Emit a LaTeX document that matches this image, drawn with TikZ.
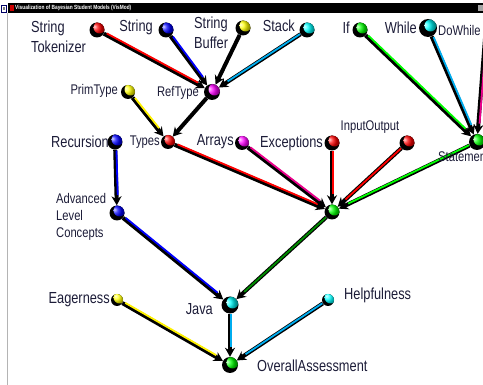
\documentclass[tikz,border=0pt]{standalone}
\usepackage{fontspec}
\newfontfamily\visfont{Liberation Sans}[FakeStretch=0.8]
\usetikzlibrary{arrows.meta}
\definecolor{ink}{HTML}{1C1C38}
\definecolor{frame}{HTML}{B4B4B4}
\tikzset{
  every picture/.style={>={Stealth[length=9pt,width=10pt]}},
  ball/.style={circle, inner sep=0pt, minimum size=15pt, fill=black,
    path picture={\shade[ball color=#1] ([shift={(2.5pt,2.5pt)}]path picture bounding box.center) circle (6pt);}},
  bigtxt/.style={font=\visfont\fontsize{16}{20}\selectfont, text=ink, inner sep=0pt, align=left},
  smalltxt/.style={font=\visfont\fontsize{14}{17}\selectfont, text=ink, inner sep=0pt, align=left},
  link/.style={->, line width=4pt},
  strip/.style={line width=1.8pt, shorten >=9pt, shorten <=2pt,
    transform canvas={shift={(1.2pt,1.2pt)}}},
}
\begin{document}
\begin{tikzpicture}[x=1pt,y=-1pt]
  \path[use as bounding box] (0,0) rectangle (483,385);
  \clip (0,0) rectangle (483,385);
  \draw[frame, line width=1pt] (7.5,13) -- (7.5,385);

  % nodes of the network
  \node[ball=red] (tok) at (97,30) {};
  \node[ball=blue] (str) at (166,30) {};
  \node[ball=yellow] (sbuf) at (243,28) {};
  \node[ball=cyan] (stack) at (307,30) {};
  \node[ball=green] (if) at (360,30) {};
  \node[ball=cyan, minimum size=18pt] (while) at (428,28) {};
  \coordinate (offr) at (488,0);
  \node[ball=magenta, minimum size=16pt] (ref) at (212,92) {};
  \node[ball=yellow, minimum size=14pt] (prim) at (128,92) {};
  \node[ball=red, minimum size=14pt] (types) at (168,142) {};
  \node[ball=blue] (rec) at (115,142) {};
  \node[ball=magenta, minimum size=14pt] (arr) at (242,143) {};
  \node[ball=red] (exc) at (332,143) {};
  \node[ball=red] (io) at (407,143) {};
  \node[ball=green, minimum size=16pt] (stmt) at (477,142) {};
  \node[ball=blue] (adv) at (117,213) {};
  \node[ball=green] (lang) at (332,212) {};
  \node[ball=cyan, minimum size=17pt] (java) at (230,305) {};
  \node[ball=yellow, minimum size=12pt] (eag) at (117,300) {};
  \node[ball=cyan, minimum size=12pt] (help) at (328,300) {};
  \node[ball=green, minimum size=16pt] (all) at (230,365) {};

  % dependencies
  \foreach \a/\b/\c in {tok/ref/red, str/ref/blue, sbuf/ref/black, stack/ref/cyan,
      prim/types/yellow, ref/types/black, types/lang/red, arr/lang/magenta,
      exc/lang/red, io/lang/red, stmt/lang/green, if/stmt/green, while/stmt/cyan,
      offr/stmt/magenta, rec/adv/blue, adv/java/blue, lang/java/green!55!black,
      java/all/cyan, eag/all/yellow, help/all/cyan}{
    \draw[link] (\a) -- (\b);
    \draw[strip,\c] (\a) -- (\b);
  }

  % labels
  \node[bigtxt, anchor=west] (tok-l) at (31,37) {String\\Tokenizer};
  \node[bigtxt, anchor=east] (str-l) at (153,27) {String};
  \node[bigtxt, anchor=west] (sbuf-l) at (194,33) {String\\Buffer};
  \node[bigtxt, anchor=east] (stack-l) at (295,26) {Stack};
  \node[bigtxt, anchor=east] (if-l) at (350,28) {If};
  \node[bigtxt, anchor=east] (while-l) at (417,28) {While};
  \node[smalltxt, anchor=west] (dowhile-l) at (438,30) {DoWhile};
  \node[smalltxt, anchor=east] (prim-l) at (118,91) {PrimType};
  \node[smalltxt, anchor=east] (ref-l) at (199,93) {RefType};
  \node[smalltxt, anchor=east] (types-l) at (160,142) {Types};
  \node[bigtxt, anchor=east] (rec-l) at (109,142) {Recursion};
  \node[bigtxt, anchor=east] (arr-l) at (234,142) {Arrays};
  \node[bigtxt, anchor=east] (exc-l) at (323,143) {Exceptions};
  \node[smalltxt] (io-l) at (370,127) {InputOutput};
  \node[smalltxt, anchor=west] (adv-l) at (56,217) {Advanced\\Level\\Concepts};
  \node[smalltxt, anchor=west] (stmt-l) at (438,157) {Statements};
  \node[bigtxt, anchor=east] (java-l) at (213,309) {Java};
  \node[bigtxt, anchor=east] (eag-l) at (110,300) {Eagerness};
  \node[bigtxt, anchor=west] (help-l) at (344,295) {Helpfulness};
  \node[bigtxt, anchor=west] (all-l) at (257,366) {OverallAssessment};

  % window title bar
  \fill[black] (8,3.5) rectangle (483,13);
  \fill[red!80!black] (9.5,5.5) rectangle (13.5,11);
  \node[anchor=west, inner sep=0pt, text=white, font=\visfont\bfseries\fontsize{6}{7}\selectfont]
    (title) at (15,8.3) {Visualization of Bayesian Student Models (VisMod)};
  \fill[gray!70] (477.5,5) rectangle (483,11.5);
  \draw[fill=white, draw=blue!40!black, line width=0.8pt] (1,5) rectangle (6.5,12);
  \fill[gray] (2.8,7) rectangle (4.8,10);
\end{tikzpicture}
\end{document}
